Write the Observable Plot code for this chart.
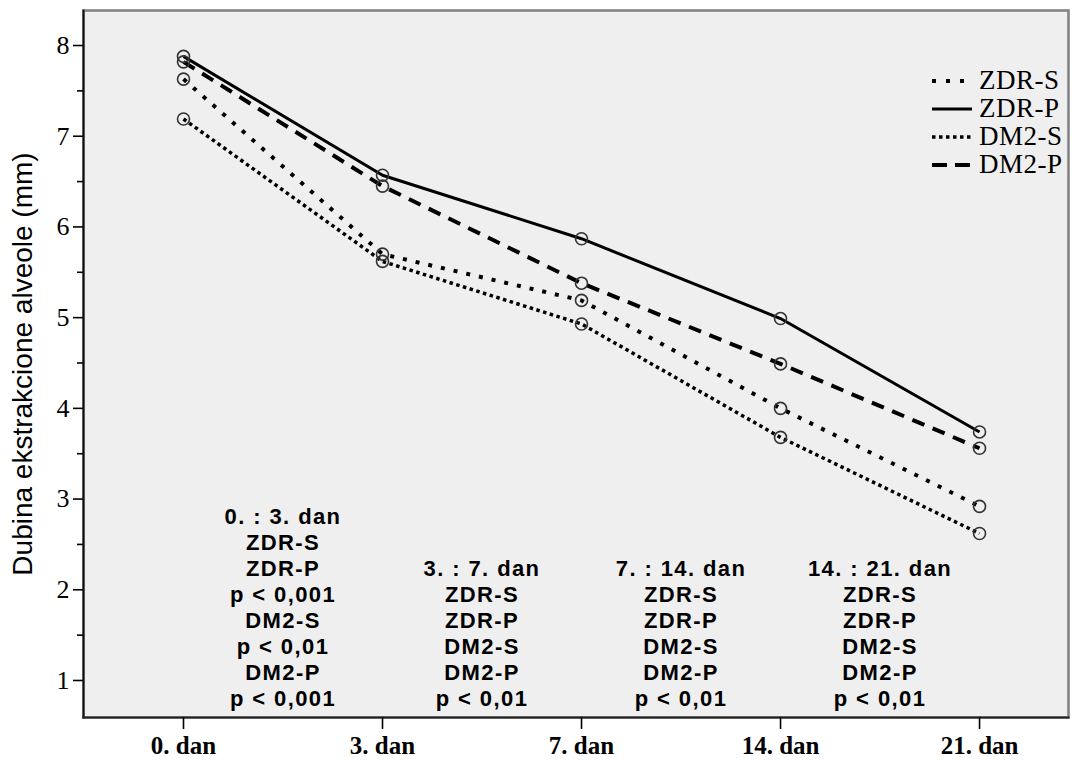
<!DOCTYPE html>
<html>
<head>
<meta charset="utf-8">
<script src="https://cdn.jsdelivr.net/npm/d3@7"></script>
<script src="https://cdn.jsdelivr.net/npm/@observablehq/plot@0.6"></script>
<style>
  html, body { margin: 0; padding: 0; background: #fff; overflow: hidden; }
  #wrap { position: relative; width: 1075px; height: 760px; }
  #legend { position: absolute; left: 930px; top: 66px; font-family: "Liberation Serif", "Times New Roman", serif; font-size: 27px; color: #000; }
  #legend .row { display: flex; align-items: center; height: 28px; letter-spacing: 0.5px; }
  #legend svg { margin-right: 5px; }
</style>
</head>
<body>
<div id="wrap"></div>
<script>
// ---- data ----
const days = ["0. dan", "3. dan", "7. dan", "14. dan", "21. dan"];
const dayIndex = [0, 1, 2, 3, 4];
const zdrS = [7.63, 5.70, 5.19, 4.00, 2.92];
const zdrP = [7.88, 6.57, 5.87, 4.99, 3.74];
const dm2S = [7.19, 5.62, 4.93, 3.68, 2.62];
const dm2P = [7.82, 6.45, 5.38, 4.49, 3.56];
const seriesNames = ["ZDR-S", "ZDR-P", "DM2-S", "DM2-P"];
const yTicks = [1, 2, 3, 4, 5, 6, 7, 8];
const yMinorTicks = [1.5, 2.5, 3.5, 4.5, 5.5, 6.5, 7.5];
const annoPos = [0.5, 1.5, 2.5, 3.5];
const annoText = [
  "0. : 3. dan\nZDR-S\nZDR-P\np < 0,001\nDM2-S\np < 0,01\nDM2-P\np < 0,001",
  "3. : 7. dan\nZDR-S\nZDR-P\nDM2-S\nDM2-P\np < 0,01",
  "7. : 14. dan\nZDR-S\nZDR-P\nDM2-S\nDM2-P\np < 0,01",
  "14. : 21. dan\nZDR-S\nZDR-P\nDM2-S\nDM2-P\np < 0,01"
];
const yLabel = "Dubina ekstrakcione alveole (mm)";

// ---- styles per series ----
const styles = {
  "ZDR-S": {dash: "4,9", width: 4},
  "ZDR-P": {dash: null, width: 3},
  "DM2-S": {dash: "3.5,3.5", width: 3.5},
  "DM2-P": {dash: "13,9", width: 4}
};
const legendDash = {"ZDR-S": "4,10", "ZDR-P": null, "DM2-S": "3.5,3.5", "DM2-P": "15,8"};
const valuesBySeries = {"ZDR-S": zdrS, "ZDR-P": zdrP, "DM2-S": dm2S, "DM2-P": dm2P};

const serif = "'Liberation Serif', 'Times New Roman', serif";
const sans = "'Liberation Sans', Arial, sans-serif";

const lineMarks = [];
const dotMarks = [];
for (const name of seriesNames) {
  const rows = dayIndex.map(i => ({i, v: valuesBySeries[name][i]}));
  const s = styles[name];
  lineMarks.push(Plot.line(rows, {
    x: "i", y: "v", stroke: "#000", strokeWidth: s.width,
    strokeDasharray: s.dash, strokeLinecap: "butt", curve: "linear"
  }));
  dotMarks.push(Plot.dot(rows, {
    x: "i", y: "v", r: 6, stroke: "#333", strokeWidth: 1.6, fill: "none"
  }));
}

const chart = Plot.plot({
  width: 1075,
  height: 760,
  marginLeft: 83,
  marginRight: 7,
  marginTop: 10,
  marginBottom: 43,
  style: {background: "white", color: "#000"},
  x: {type: "linear", domain: [-0.5025, 4.447]},
  y: {type: "linear", domain: [0.592, 8.386]},
  marks: [
    Plot.frame({fill: "#efefef", stroke: "#808080", strokeWidth: 2.5}),
    Plot.frame({anchor: "left", stroke: "#111", strokeWidth: 2}),
    Plot.frame({anchor: "bottom", stroke: "#222", strokeWidth: 2}),
    Plot.axisY({ticks: yTicks, tickSize: 10, tickPadding: 4, fontSize: 26, fontFamily: serif,
      tickFormat: d => String(d), label: null, strokeWidth: 1.6}),
    Plot.axisY({ticks: yMinorTicks, tickSize: 6, tickFormat: () => "", label: null, strokeWidth: 1.6}),
    Plot.axisX({ticks: dayIndex, tickFormat: i => days[i], tickSize: 12, tickPadding: 7,
      fontSize: 25, fontWeight: "bold", fontFamily: serif, label: null, strokeWidth: 1.6}),
    Plot.text([yLabel], {frameAnchor: "left", textAnchor: "middle", rotate: -90, dx: -60, fontSize: 28,
      fontFamily: sans, fill: "#000", text: d => d}),
    ...lineMarks,
    ...dotMarks,
    Plot.text(annoText, {x: (d, k) => annoPos[k], text: d => d, frameAnchor: "bottom",
      lineAnchor: "bottom", dy: -12, fontSize: 22, fontWeight: "bold", fontFamily: sans,
      lineHeight: 1.18, fill: "#000", textAnchor: "middle"})
  ]
});

// widen annotation letters slightly to match the reference
d3.select(chart).selectAll('g[aria-label="text"]').each(function() {
  const g = d3.select(this);
  if (g.selectAll("tspan").size() > 0) g.attr("letter-spacing", "1.4px");
});

const wrap = document.getElementById("wrap");
wrap.appendChild(chart);

// ---- legend (overlay) ----
const legend = document.createElement("div");
legend.id = "legend";
for (const name of seriesNames) {
  const row = document.createElement("div");
  row.className = "row";
  const s = styles[name];
  const sw = d3.create("svg").attr("width", 44).attr("height", 28);
  sw.append("line").attr("x1", 2).attr("x2", 42).attr("y1", 15).attr("y2", 15)
    .attr("stroke", "#000").attr("stroke-width", s.width)
    .attr("stroke-dasharray", legendDash[name]);
  row.appendChild(sw.node());
  const t = document.createElement("span");
  t.textContent = name;
  row.appendChild(t);
  legend.appendChild(row);
}
wrap.appendChild(legend);
</script>
</body>
</html>
